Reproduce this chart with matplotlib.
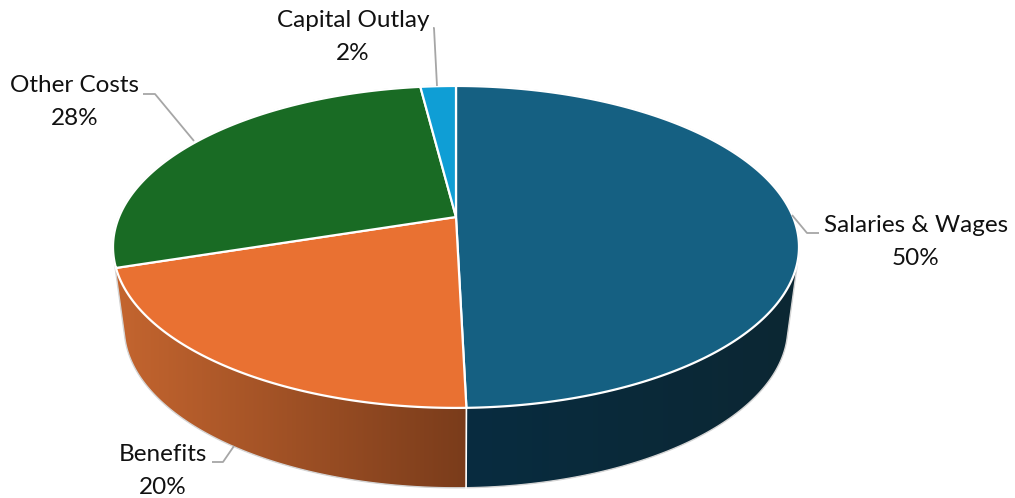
"""Budget split as a tilted 3D pie, drawn in pixel coordinates with a perspective projection."""
import numpy as np
import matplotlib

matplotlib.use("Agg")  # headless
import matplotlib.pyplot as plt  # noqa: E402
from matplotlib.colors import to_rgb  # noqa: E402
from matplotlib.patches import Polygon  # noqa: E402

# shares, clockwise from 12 o'clock; labels show them rounded
categories = ["Salaries & Wages", "Benefits", "Other Costs", "Capital Outlay"]
shares = [49.6, 20.4, 28.0, 2.0]

top_colors = ["#156082", "#E97132", "#196B24", "#0F9ED5"]
# wall gradient of the two front slices, left colour then right colour
wall_colors = [("#082C40", "#0C2733"), ("#C4652F", "#7A3C1B")]

label_centers = [(916, 242), (163, 471), (75, 102), (353, 37)]
leaders = [
    [(792, 215), (807, 233), (819, 233)],
    [(212, 462), (223, 462), (234, 446)],
    [(143, 94), (155, 94), (194, 141)],
    [(433, 28), (434, 28), (437, 86)],
]

CX = 456
TILT = -0.186  # perspective term: the near rim is magnified
TOP_FACE = (337, 155.4, 217)  # half width, half depth, apex y
BOTTOM_FACE = (326, 154.5, 298)
WIDTH, HEIGHT = 1015, 498


def project(theta, face):
    a, b, c = face
    u, v = np.sin(theta), -np.cos(theta)
    w = 1 + TILT * v
    return np.column_stack([CX + a * u / w, c + b * v / w])


def hull(pts, n=720):
    # silhouette of a convex point cloud, one support point per direction
    phi = np.linspace(0, 2 * np.pi, n, endpoint=False)
    dirs = np.column_stack([np.cos(phi), np.sin(phi)])
    return pts[np.argmax(pts @ dirs.T, axis=0)]


plt.rcParams["font.family"] = ["Lato", "DejaVu Sans"]
fig = plt.figure(figsize=(WIDTH / 100, HEIGHT / 100), dpi=100)
ax = fig.add_axes([0, 0, 1, 1])

edges = np.deg2rad(np.cumsum([0] + shares) * 3.6)
ring = np.linspace(0, 2 * np.pi, 721)
outline = hull(np.vstack([project(ring, TOP_FACE), project(ring, BOTTOM_FACE)]))

# side wall: one image, each column coloured by the front slice it belongs to
seam = edges[1]
seam_top = project(np.array([seam]), TOP_FACE)
seam_bottom = project(np.array([seam]), BOTTOM_FACE)
seam_x = seam_top[0, 0]
rim_left = project(np.array([edges[2]]), TOP_FACE)[0, 0]
rim_right = project(np.array([np.pi / 2]), TOP_FACE)[0, 0]

cols = np.arange(WIDTH)
wall = np.ones((1, WIDTH, 3))
spans = [(seam_x, rim_right), (rim_left, seam_x)]
for (x0, x1), (left, right) in zip(spans, wall_colors):
    t = np.clip((cols - x0) / (x1 - x0), 0, 1)[:, None]
    mix = np.array(to_rgb(left)) * (1 - t) + np.array(to_rgb(right)) * t
    inside = cols >= x0 if x1 == rim_right else cols < x1
    wall[0, inside] = mix[inside]

image = ax.imshow(wall, extent=(0, WIDTH, HEIGHT, 0), aspect="auto", interpolation="nearest", zorder=1)
clip = Polygon(outline, closed=True, transform=ax.transData, facecolor="none", edgecolor="none")
ax.add_patch(clip)
image.set_clip_path(clip)
ax.add_patch(Polygon(outline, closed=True, facecolor="none", edgecolor="#D4D4D4", lw=1.0, zorder=2))

ax.plot(*np.vstack([seam_top, seam_bottom]).T, color="white", lw=1.2, zorder=3)

apex = np.array([[CX, TOP_FACE[2]]])
for start, end, color in zip(edges[:-1], edges[1:], top_colors):
    arc = project(np.linspace(start, end, 300), TOP_FACE)
    ax.add_patch(Polygon(np.vstack([apex, arc]), closed=True, facecolor=color,
                         edgecolor="white", lw=1.6, joinstyle="round", zorder=4))

for path in leaders:
    xs, ys = zip(*path)
    ax.plot(xs, ys, color="#A6A6A6", lw=1.3, solid_capstyle="butt", zorder=5)

for name, share, (x, y) in zip(categories, shares, label_centers):
    ax.text(x, y, f"{name}\n{share:.0f}%", ha="center", va="center", fontsize=17.5,
            linespacing=1.7, color="#111111", zorder=6)

ax.set_xlim(0, WIDTH)
ax.set_ylim(HEIGHT, 0)
ax.axis("off")
fig.savefig("out.png", dpi=100, facecolor="white")
plt.close(fig)
